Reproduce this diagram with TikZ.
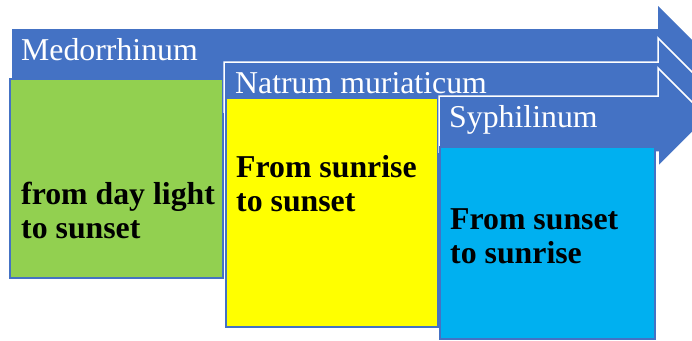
\documentclass[tikz,border=0pt]{standalone}
\usepackage{fontspec}
\setmainfont{Liberation Serif}
\definecolor{arrowblue}{HTML}{4472C4}
\definecolor{boxgreen}{HTML}{92D050}
\definecolor{boxyellow}{HTML}{FFFF00}
\definecolor{boxcyan}{HTML}{00B0F0}
\begin{document}
\begin{tikzpicture}[x=1pt,y=-1pt,
  arrowshape/.style={fill=arrowblue, draw=white, line width=1.5pt, line join=miter},
  boxshape/.style={draw=arrowblue, line width=1.5pt},
  arrowlabel/.style={text=white, font=\fontsize{31.8}{34}\selectfont, inner sep=0pt, anchor=base west},
  boxtext/.style={font=\fontsize{31.8}{34}\selectfont\bfseries, inner sep=0pt, anchor=base west}]
\useasboundingbox (0,0) rectangle (692,340);
\begin{scope}
\clip (0,0) rectangle (692,340);
% arrow 1
\fill[arrowblue] (12,29) -- (658,29) -- (658,6) -- (707.5,55.5) -- (658,105) -- (658,85) -- (12,85) -- cycle;
\draw[boxshape, fill=boxgreen] (10,79) rectangle (223,278);
% arrow 2
\draw[arrowshape] (224,62) -- (658,62) -- (658,38) -- (707.5,87.5) -- (658,137) -- (658,112) -- (224,112) -- cycle;
\draw[boxshape, fill=boxyellow] (226,98) rectangle (438,327);
% arrow 3
\draw[arrowshape] (439,96) -- (658,96) -- (658,68) -- (707.5,117.5) -- (658,167) -- (658,152) -- (439,152) -- cycle;
\draw[boxshape, fill=boxcyan] (440,147) rectangle (655,339);
\end{scope}
\node[arrowlabel] (l1) at (21,60) {Medorrhinum};
\node[arrowlabel] (l2) at (235,93) {Natrum muriaticum};
\node[arrowlabel] (l3) at (449,127) {Syphilinum};
\node[boxtext] (t1) at (21,204) {\begin{tabular}[t]{@{}l@{}}from day light\\to sunset\end{tabular}};
\node[boxtext] (t2) at (236,177) {\begin{tabular}[t]{@{}l@{}}From sunrise\\to sunset\end{tabular}};
\node[boxtext] (t3) at (450,229) {\begin{tabular}[t]{@{}l@{}}From sunset\\to sunrise\end{tabular}};
\end{tikzpicture}
\end{document}
